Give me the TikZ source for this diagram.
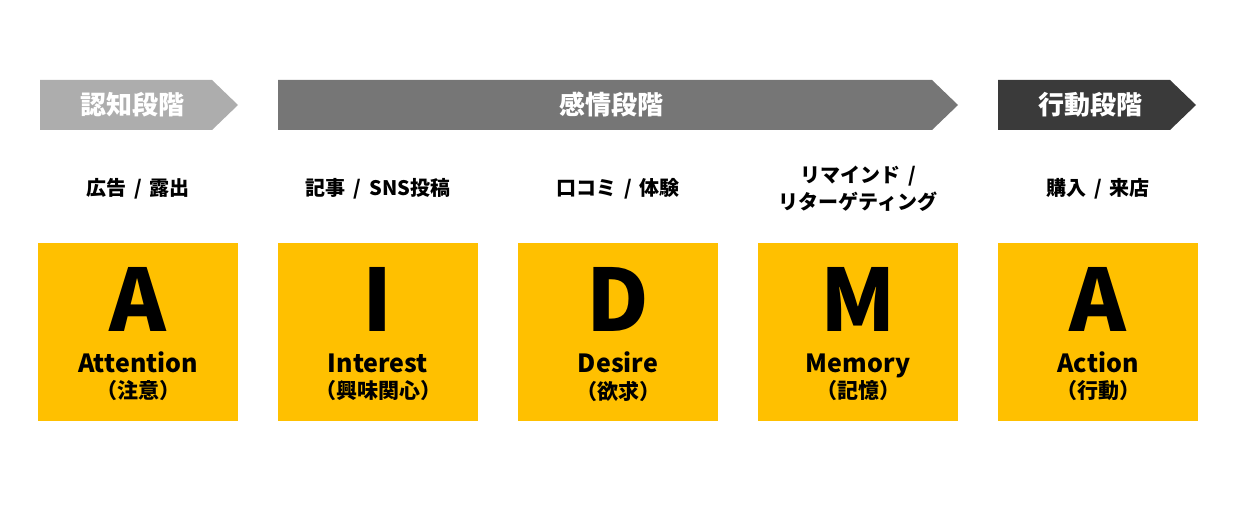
\documentclass[tikz,border=0pt]{standalone}
\usepackage{fontspec}
\setmainfont{Noto Sans CJK JP}
\usetikzlibrary{positioning}
\definecolor{phaseA}{HTML}{ADADAD}
\definecolor{phaseB}{HTML}{767676}
\definecolor{phaseC}{HTML}{3A3A3A}
\definecolor{boxfill}{HTML}{FFC000}
\newcommand\slsh{\hspace{0.4em}/\hspace{0.4em}}
\tikzset{
    every node/.style={font=\bfseries},
    phase label/.style={text=white,font=\bfseries\fontsize{26}{26}\selectfont},
    stage box/.style={fill=boxfill,minimum width=200,minimum height=178,inner sep=0},
    stage letter/.style={anchor=base,font=\bfseries\fontsize{86}{86}\selectfont},
    stage name/.style={anchor=base,font=\bfseries\fontsize{25}{25}\selectfont},
    stage jp/.style={font=\bfseries\fontsize{21}{21}\selectfont},
    stage note/.style={align=center,font=\bfseries\fontsize{20}{27}\selectfont}
}

\begin{document}
\begin{tikzpicture}[x=1pt,y=-1pt]
    \useasboundingbox (0,0) rectangle (1247,521);

    % phases
    \foreach \xa/\xb/\col/\txt/\id in {40/238/phaseA/認知段階/p1,
                                    278/958/phaseB/感情段階/p2,
                                    998/1196/phaseC/行動段階/p3}{
        \fill[\col] (\xa,80) -- (\xb-26,80) -- (\xb,105) -- (\xb-26,130) -- (\xa,130) -- cycle;
        \node[phase label] (\id) at ({(\xa+\xb-13)/2},105) {\txt};
    }

    % stages
    \foreach \x/\ltr/\en/\jp/\note/\id in {138/A/Attention/（注意）/{広告\slsh 露出}/s1,
                                    378/I/Interest/（興味関心）/{記事\slsh SNS投稿}/s2,
                                    618/D/Desire/（欲求）/{口コミ\slsh 体験}/s3,
                                    858/M/Memory/（記憶）/{リマインド\slsh\\リターゲティング}/s4,
                                    1098/A/Action/（行動）/{購入\slsh 来店}/s5}{
        \node[stage note] (\id note) at (\x,189) {\note};
        \node[stage box] (\id) at (\x,332) {};
        \node[stage letter] (\id let) at (\x,331) {\ltr};
        \node[stage name] (\id en) at (\x,372) {\en};
        \node[stage jp] (\id jp) at (\x,391) {\jp};
    }
\end{tikzpicture}
\end{document}
